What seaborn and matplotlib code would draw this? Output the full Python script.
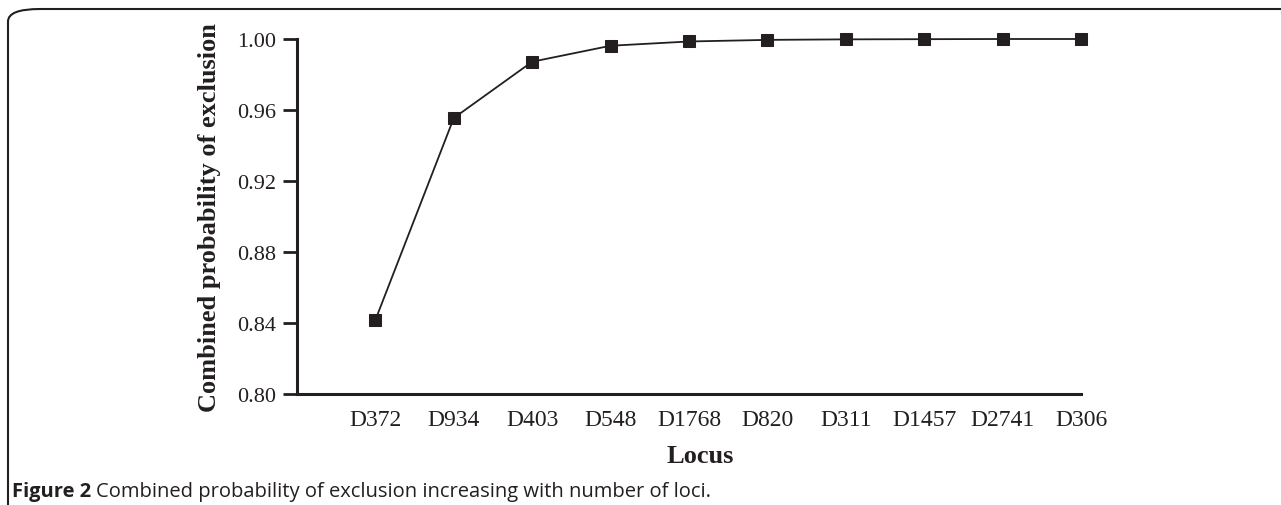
import seaborn as sns
import numpy as np
import pandas as pd
import matplotlib.pyplot as plt
from matplotlib.patches import FancyBboxPatch

loci = ["D372", "D934", "D403", "D548", "D1768", "D820", "D311", "D1457", "D2741", "D306"]
cpe = [0.8417, 0.9555, 0.9872, 0.9962, 0.9986, 0.9995, 0.9998, 0.9999, 1.0000, 1.0000]
yticks = [0.80, 0.84, 0.88, 0.92, 0.96, 1.00]

sns.set_style("white")
plt.rcParams["font.family"] = ["Liberation Serif", "DejaVu Serif"]

df = pd.DataFrame({"pos": np.arange(len(loci)), "locus": loci, "cpe": cpe})

fig = plt.figure(figsize=(12.81, 5.06), dpi=100)
ax = fig.add_axes([297 / 1281, 1 - 395 / 506, (1081 - 297) / 1281, (395 - 40) / 506])

sns.lineplot(data=df, x="pos", y="cpe", ax=ax, color="#231f20", linewidth=1.3,
             marker="s", markersize=9, markeredgecolor="#231f20", markerfacecolor="#231f20",
             clip_on=False)

ax.set_xlim(-1, len(loci) - 1)
ax.set_ylim(0.80, 1.00)
ax.set_xticks(df["pos"])
ax.set_xticklabels(loci, fontsize=17, color="#231f20")
ax.set_yticks(yticks)
ax.set_yticklabels([f"{v:.2f}" for v in yticks], fontsize=16, color="#231f20")
ax.tick_params(axis="x", length=0, pad=11)
ax.tick_params(axis="y", length=10, width=2, color="#231f20", pad=5, left=True)

for side in ["top", "right"]:
    ax.spines[side].set_visible(False)
for side in ["left", "bottom"]:
    ax.spines[side].set_linewidth(2.2)
    ax.spines[side].set_color("#231f20")

ax.set_xlabel("")
ax.set_ylabel("Combined probability of exclusion", fontsize=19, fontweight="bold",
              color="#231f20", labelpad=12)
fig.text(700 / 1281, 1 - 457 / 506, "Locus", fontsize=19, fontweight="bold",
         color="#231f20", ha="center", va="center")

# caption and frame
cap = fig.text(12 / 1281, 1 - 492 / 506, "Figure 2", fontsize=14.5, fontweight="bold",
               family="Open Sans", color="#231f20", ha="left", va="center")
fig.canvas.draw()
bb = cap.get_window_extent()
fig.text((bb.x1 + 5) / 1281, 1 - 492 / 506,
         "Combined probability of exclusion increasing with number of loci.",
         fontsize=14.5, family="Open Sans", color="#231f20", ha="left", va="center")

frame = FancyBboxPatch((8 / 1281, -0.2), 1.2, 1.2 - 10 / 506,
                       boxstyle="round,pad=0,rounding_size=0.025",
                       transform=fig.transFigure, fill=False,
                       edgecolor="#231f20", linewidth=1.5, mutation_aspect=506 / 1281 * 2.5)
fig.patches.append(frame)

fig.savefig("out.png", dpi=100)
